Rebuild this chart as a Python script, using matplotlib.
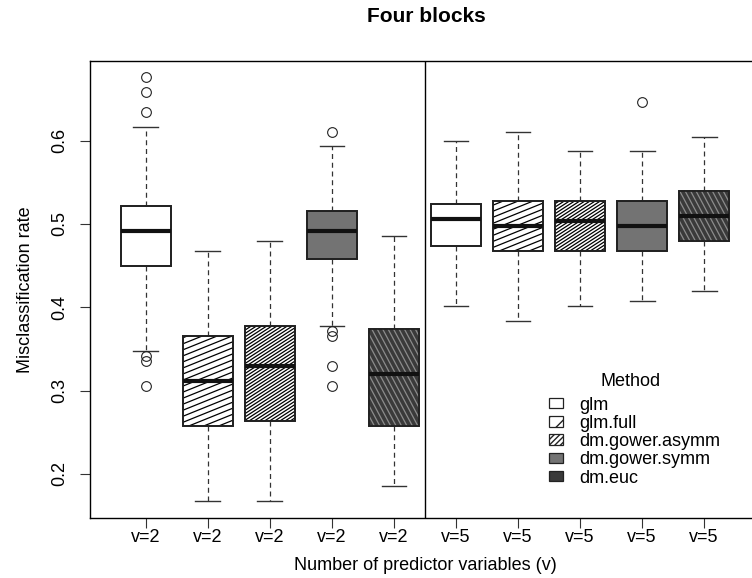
import numpy as np
import matplotlib
matplotlib.use("Agg")
import matplotlib.pyplot as plt
from matplotlib.patches import Patch, PathPatch
from matplotlib.collections import LineCollection
from matplotlib.transforms import IdentityTransform

plt.rcParams['font.family'] = ['Liberation Sans', 'DejaVu Sans']

# data
methods = ['glm', 'glm.full', 'dm.gower.asymm', 'dm.gower.symm', 'dm.euc']
group_labels = ['v=2', 'v=5']

# five methods for v=2, then five methods for v=5
whislo = [0.347, 0.168, 0.168, 0.377, 0.186, 0.401, 0.383, 0.401, 0.407, 0.419]
q1 = [0.449, 0.257, 0.263, 0.458, 0.257, 0.473, 0.467, 0.467, 0.467, 0.479]
med = [0.491, 0.311, 0.330, 0.491, 0.320, 0.506, 0.498, 0.503, 0.497, 0.509]
q3 = [0.521, 0.365, 0.377, 0.515, 0.374, 0.524, 0.527, 0.527, 0.527, 0.539]
whishi = [0.617, 0.467, 0.479, 0.593, 0.485, 0.599, 0.611, 0.587, 0.587, 0.605]
fliers = [
    [0.677, 0.658, 0.634, 0.342, 0.335, 0.305],
    [], [],
    [0.611, 0.371, 0.365, 0.330, 0.305],
    [], [], [], [],
    [0.646],
    [],
]

# fill style per method: face, hatch angle (deg), spacing (px), line colour
styles = {
    'glm': ('white', None, None, None),
    'glm.full': ('white', 22, 5.6, 'black'),
    'dm.gower.asymm': ('white', 33, 2.8, 'black'),
    'dm.gower.symm': ('#737373', None, None, None),
    'dm.euc': ('#3a3a3a', -62, 4.8, '#8c8c8c'),
}

FS = 13  # base text size


def hatch_patch(ax, patch, angle, spacing, color, lw=0.9):
    # draw parallel lines across the patch in pixel space, clipped to it
    bb = patch.get_window_extent()
    a = np.radians(angle)
    d = np.array([np.cos(a), np.sin(a)])
    n = np.array([-np.sin(a), np.cos(a)])
    c = np.array([(bb.x0 + bb.x1) / 2, (bb.y0 + bb.y1) / 2])
    corners = np.array([[bb.x0, bb.y0], [bb.x0, bb.y1], [bb.x1, bb.y0], [bb.x1, bb.y1]])
    proj = (corners - c) @ n
    L = np.hypot(bb.width, bb.height)
    segs = []
    for t in np.arange(proj.min(), proj.max() + spacing, spacing):
        p = c + t * n
        segs.append([p - L * d, p + L * d])
    lc = LineCollection(segs, colors=color, linewidths=lw,
                        transform=IdentityTransform(), zorder=2.03)
    lc.set_clip_path(patch)
    ax.add_collection(lc, autolim=False)


fig = plt.figure(figsize=(7.52, 5.78), dpi=100)
ax = fig.add_axes([90 / 752, 60 / 578, 670 / 752, 457.3 / 578])

n_box = len(med)
positions = np.arange(1, n_box + 1)
stats = []
for i in range(n_box):
    stats.append(dict(whislo=whislo[i], q1=q1[i], med=med[i], q3=q3[i],
                      whishi=whishi[i], fliers=fliers[i]))

bp = ax.bxp(stats, positions=positions, widths=0.8, capwidths=0.4,
            patch_artist=True, showfliers=True,
            boxprops=dict(linewidth=1.3, edgecolor='#222222'),
            medianprops=dict(linewidth=3.0, color='#111111', solid_capstyle='butt'),
            whiskerprops=dict(linewidth=0.9, linestyle=(0, (4, 3)), color='#333333'),
            capprops=dict(linewidth=1.0, color='#333333'),
            flierprops=dict(marker='o', markersize=7, markerfacecolor='none',
                            markeredgecolor='#222222', markeredgewidth=0.8))

ax.set_xlim(0.1, 10.9)
ax.set_ylim(0.147, 0.696)

for i, box in enumerate(bp['boxes']):
    face, angle, spacing, lcol = styles[methods[i % len(methods)]]
    box.set_facecolor(face)
    if angle is not None:
        hatch_patch(ax, box, angle, spacing, lcol)
    # redraw outline on top of the hatching
    ax.add_patch(PathPatch(box.get_path(), transform=box.get_transform(), fill=False,
                           edgecolor='#222222', linewidth=1.3, zorder=2.06))

ax.axvline(len(methods) + 0.5, color='black', linewidth=1.0)

ax.set_xticks(positions, [group_labels[i // len(methods)] for i in range(n_box)])
ax.set_yticks([0.2, 0.3, 0.4, 0.5, 0.6])
ax.tick_params(direction='out', length=7.5, width=0.8, labelsize=FS, color='#333333')
ax.tick_params(axis='y', labelrotation=90, pad=8)
ax.tick_params(axis='x', pad=0.5)
for lab in ax.get_yticklabels():
    lab.set_va('center')
for s in ax.spines.values():
    s.set_linewidth(1.0)

fig.text(426 / 752, 1 - 16 / 578, 'Four blocks', ha='center', va='center',
         fontsize=15, fontweight='bold')
fig.text(425 / 752, 1 - 566 / 578, 'Number of predictor variables (v)',
         ha='center', va='center', fontsize=FS)
fig.text(26 / 752, 1 - 290 / 578, 'Misclassification rate', ha='center',
         va='center', rotation=90, fontsize=FS)

# legend: title placed as its own text, key boxes use built-in hatches
fig.text(631 / 752, 1 - 381 / 578, 'Method', ha='center', va='center', fontsize=FS)
leg_hatch = {'glm': None, 'glm.full': '//', 'dm.gower.asymm': '//////',
             'dm.gower.symm': None, 'dm.euc': None}
handles = [Patch(facecolor=styles[m][0], edgecolor='#222222', linewidth=0.9,
                 hatch=leg_hatch[m]) for m in methods]
ax.legend(handles, methods, loc='upper left',
          bbox_to_anchor=(549 / 752, 1 - 396.5 / 578), bbox_transform=fig.transFigure,
          frameon=False, borderpad=0, borderaxespad=0, fontsize=FS,
          handlelength=0.78, handleheight=0.5, handletextpad=0.9, labelspacing=0.07)

fig.savefig('out.png', dpi=100)
